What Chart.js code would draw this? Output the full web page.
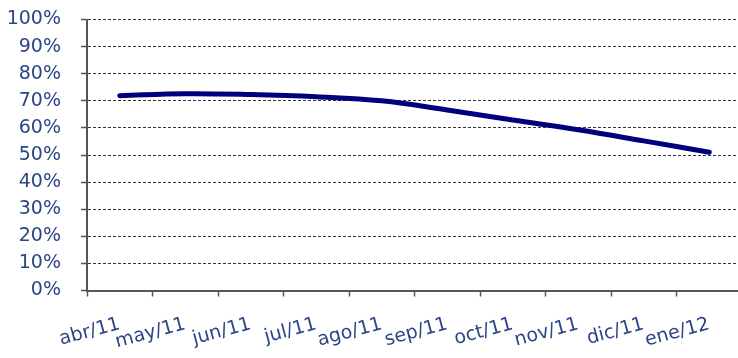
<!DOCTYPE html>
<html>
<head>
<meta charset="utf-8">
<script src="https://cdn.jsdelivr.net/npm/chart.js@4/dist/chart.umd.min.js"></script>
<style>
  html, body { margin: 0; padding: 0; background: #fff; overflow: hidden; }
  #wrap { width: 744px; height: 358px; }
</style>
</head>
<body>
<div id="wrap"><canvas id="chart"></canvas></div>
<script>
const months = ["abr/11", "may/11", "jun/11", "jul/11", "ago/11", "sep/11", "oct/11", "nov/11", "dic/11", "ene/12"];
const shareValues = [71.9, 72.6, 72.3, 71.5, 70.0, 66.6, 62.9, 59.3, 55.2, 51.0];
const yTicks = [0, 10, 20, 30, 40, 50, 60, 70, 80, 90, 100];

const labelColor = "#2b4585";
const labelFont = { family: "DejaVu Sans", size: 19 };

function createChart() {
  const canvas = document.getElementById("chart");

  new Chart(canvas, {
    type: "line",
    data: {
      labels: months,
      datasets: [{
        data: shareValues,
        borderColor: "#00007f",
        borderWidth: 5,
        borderCapStyle: "round",
        tension: 0.4,
        pointRadius: 0,
        fill: false,
      }],
    },
    options: {
      responsive: true,
      maintainAspectRatio: false,
      animation: false,
      layout: {
        padding: { top: 0, left: 6, right: 2, bottom: 0 },
      },
      scales: {
        x: {
          offset: true,
          afterFit: (scale) => { scale.height = 67.5; },
          grid: {
            display: true,
            drawOnChartArea: false,
            drawTicks: true,
            offset: true,
            tickLength: 6,
            tickColor: "#555",
            tickWidth: 1.5,
          },
          border: { display: true, color: "#555", width: 2 },
          ticks: {
            color: labelColor,
            font: labelFont,
            autoSkip: false,
            minRotation: 15,
            maxRotation: 15,
            padding: 16.5,
          },
        },
        y: {
          min: 0,
          max: 100,
          afterBuildTicks: (scale) => {
            scale.ticks = yTicks.map((v) => ({ value: v }));
          },
          afterFit: (scale) => {
            scale.width = 81;
            scale.paddingTop = 19.5;
            scale.paddingBottom = 12;
          },
          grid: {
            color: "#333",
            lineWidth: 1,
            tickLength: 6,
            tickColor: "#555",
            tickWidth: 1.5,
            tickBorderDash: [],
          },
          border: { display: true, color: "#555", width: 2, dash: [3, 2] },
          ticks: {
            color: labelColor,
            font: labelFont,
            autoSkip: false,
            padding: 20,
            callback: (v) => v + "%",
          },
        },
      },
      plugins: {
        legend: { display: false },
        tooltip: { enabled: false },
      },
    },
  });
}

document.addEventListener("DOMContentLoaded", createChart);
</script>
</body>
</html>
